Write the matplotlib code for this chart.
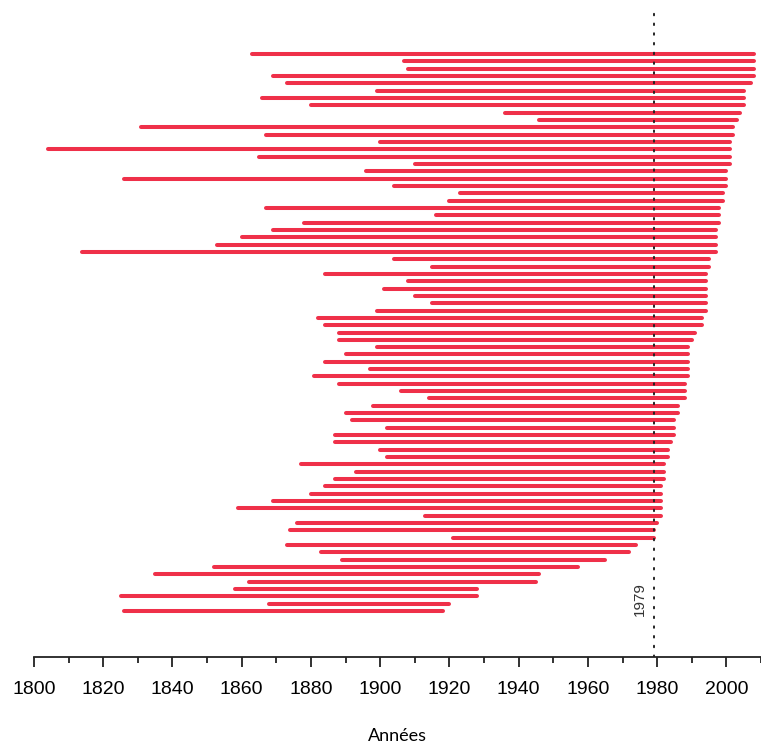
import numpy as np
import matplotlib
matplotlib.use("Agg")
from matplotlib import pyplot as plt
from matplotlib.ticker import MultipleLocator

# start / end year of each series, top row first
debut = [1863, 1907, 1908, 1869, 1873, 1899, 1866, 1880, 1936, 1946,
         1831, 1867, 1900, 1804, 1865, 1910, 1896, 1826, 1904, 1923,
         1920, 1867, 1916, 1878, 1869, 1860, 1853, 1814, 1904, 1915,
         1884, 1908, 1901, 1910, 1915, 1899, 1882, 1884, 1888, 1888,
         1899, 1890, 1884, 1897, 1881, 1888, 1906, 1914, 1898, 1890,
         1892, 1902, 1887, 1887, 1900, 1902, 1877, 1893, 1887, 1884,
         1880, 1869, 1859, 1913, 1876, 1874, 1921, 1873, 1883, 1889,
         1852, 1835, 1862, 1858, 1825, 1868, 1826]
fin = [2008, 2008, 2008, 2008, 2007, 2005, 2005, 2005, 2004, 2003,
       2002, 2002, 2001, 2001, 2001, 2001, 2000, 2000, 2000, 1999,
       1999, 1998, 1998, 1998, 1997, 1997, 1997, 1997, 1995, 1995,
       1994, 1994, 1994, 1994, 1994, 1994, 1993, 1993, 1991, 1990,
       1989, 1989, 1989, 1989, 1989, 1988, 1988, 1988, 1986, 1986,
       1985, 1985, 1985, 1984, 1983, 1983, 1982, 1982, 1982, 1981,
       1981, 1981, 1981, 1981, 1980, 1979, 1979, 1974, 1972, 1965,
       1957, 1946, 1945, 1928, 1928, 1920, 1918]
annee_ref = 1979

rows = np.arange(1, len(debut) + 1)

fig = plt.figure(figsize=(7.61, 7.47), dpi=100)
ax = fig.add_axes([34 / 761, 90 / 747, 727 / 761, 649 / 747])

ax.hlines(rows, debut, fin, color="#ef3049", linewidth=2.9, capstyle="round")
ax.axvline(annee_ref, color="#222222", linewidth=1.4, linestyle=(0, (0.8, 4.2)),
           dash_capstyle="round")
ax.text(annee_ref - 4.1, 75.4, str(annee_ref), rotation=90, ha="center", va="center",
        fontsize=11, family="Liberation Sans", color="#333333")

ax.set_xlim(1800, 2010)
ax.set_ylim(83.3, -5.3)

for s in ["left", "right", "top"]:
    ax.spines[s].set_visible(False)
ax.spines["bottom"].set_linewidth(1.3)
ax.spines["bottom"].set_color("#222222")
ax.set_yticks([])
ax.xaxis.set_major_locator(MultipleLocator(20))
ax.xaxis.set_minor_locator(MultipleLocator(10))
ax.tick_params(axis="x", which="major", length=7, width=1.3, color="#222222", pad=10)
ax.tick_params(axis="x", which="minor", length=4.5, width=1.3, color="#222222")
for lab in ax.get_xticklabels():
    lab.set_family("Liberation Sans")
    lab.set_fontsize(14)
ax.set_xlabel("Années", family="Lato", fontsize=13, labelpad=22)

fig.savefig("out.png", dpi=100)
